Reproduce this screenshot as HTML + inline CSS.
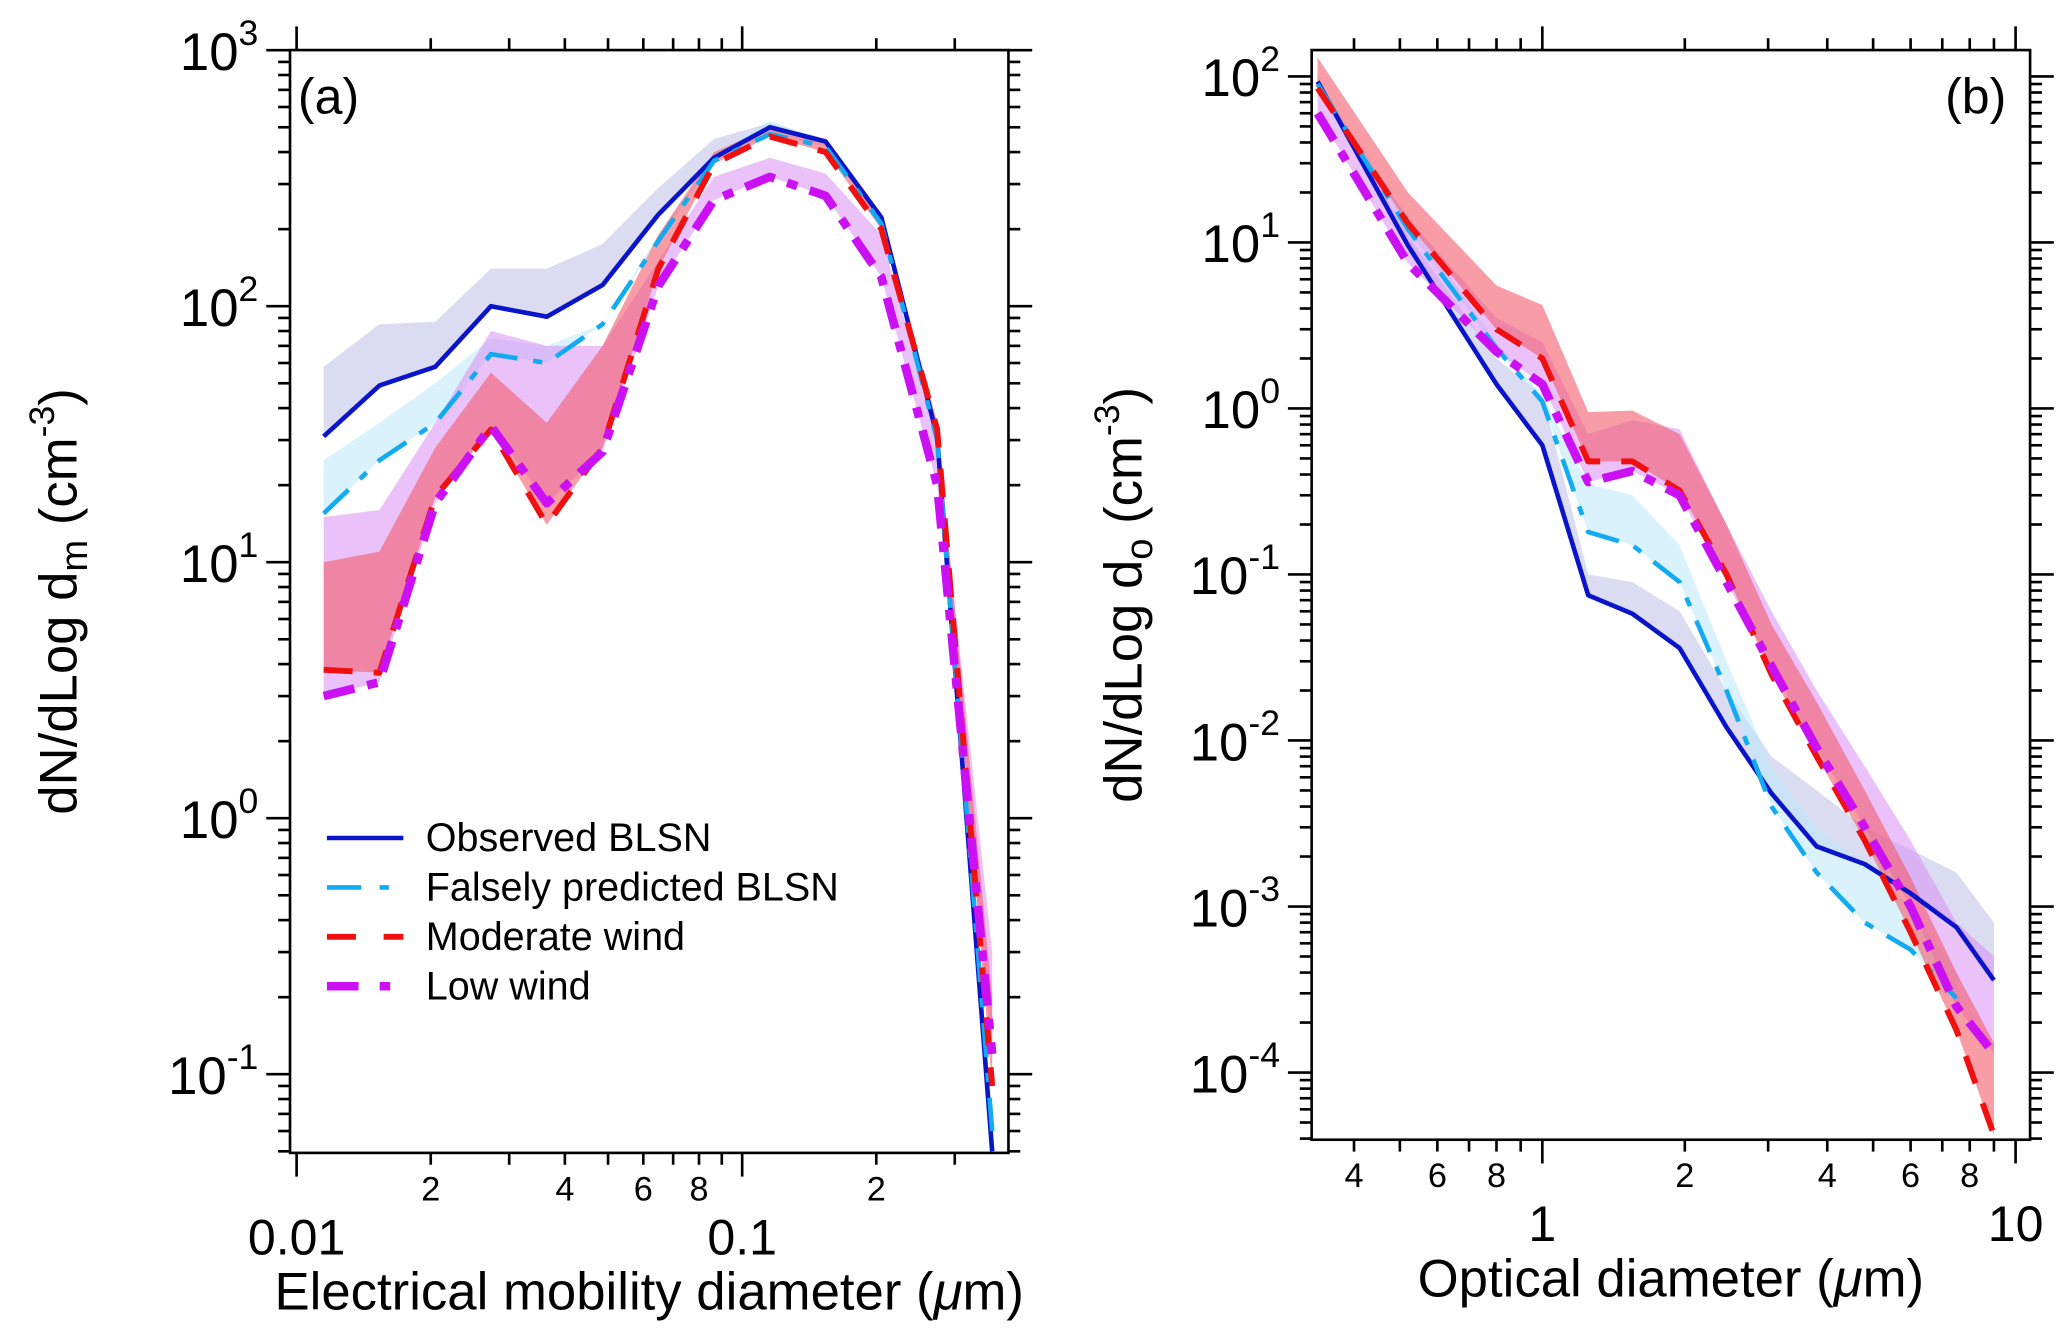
<!DOCTYPE html>
<html><head><meta charset="utf-8"><style>
html,body{margin:0;padding:0;background:#fff;}
svg{display:block;font-family:"Liberation Sans",sans-serif;}
</style></head><body>
<svg id="chart" width="2067" height="1340" viewBox="0 0 1568 1017" preserveAspectRatio="none" xmlns="http://www.w3.org/2000/svg"></svg>
<script>
// ---------- Panel (a) data ----------
const aX = [0.0115,0.01534,0.02047,0.0273,0.03643,0.0486,0.06483,0.08648,0.1154,0.1539,0.2053,0.2739,0.364];
const aObs = [31,49,58,100,91,121,228,380,500,440,222,31,0.05];
const aFalse = [15.5,25,35,65,60,85,180,370,470,420,210,30,0.06];
const aMod = [3.8,3.7,18,33,14,28,140,360,460,400,200,33,0.09];
const aLow = [3.0,3.4,17,34,17,27,120,260,320,270,130,20,0.12];
const aObsUp = [58,85,87,140,140,175,290,450,520,450,230,35,0.06];
const aFalseUp = [25,35,50,75,70,85,190,390,530,440,220,32,0.07];
const aModUp = [10,11,28,55,35,70,190,400,500,440,230,35,0.2];
const aLowUp = [15,16,35,80,70,70,150,320,380,330,190,30,0.3];
// ---------- Panel (b) data ----------
const bX = [0.335,0.52,0.8,1.0,1.25,1.55,1.95,2.45,3.05,3.8,4.8,6.0,7.5,9.0];
const bObs = [93,9.6,1.4,0.6,0.075,0.058,0.036,0.012,0.0048,0.0023,0.0018,0.0012,0.00075,0.00036];
const bFalse = [90,12,2.3,1.1,0.18,0.15,0.09,0.02,0.004,0.0016,0.0008,0.00055,0.00028,null];
const bMod = [85,13,3.0,2.0,0.48,0.48,0.32,0.1,0.025,0.008,0.0025,0.0007,0.00018,0.000042];
const bLow = [60,7.5,2.2,1.4,0.36,0.42,0.3,0.09,0.028,0.009,0.003,0.001,0.00025,0.00013];
const bObsUp = [100,11,2,1.2,0.1,0.09,0.06,0.02,0.008,0.005,0.003,0.0022,0.0016,0.0008];
const bFalseUp = [95,14,2.5,1.2,0.35,0.3,0.15,0.03,0.007,0.003,0.0018,0.001,0.0004,null];
const bModUp = [130,20,5.5,4.2,0.95,0.97,0.7,0.2,0.05,0.017,0.005,0.0015,0.0004,0.00015];
const bLowUp = [80,14,3.5,2.5,0.7,0.85,0.75,0.2,0.06,0.02,0.007,0.0025,0.0008,0.0005];

const NS="http://www.w3.org/2000/svg";
const svg=document.getElementById('chart');
function mk(tag,attrs,parent){const e=document.createElementNS(NS,tag);for(const k in attrs)e.setAttribute(k,attrs[k]);(parent||svg).appendChild(e);return e;}

function panel(cfg){
  const g=mk('g',{});
  
  
  const sx=v=>cfg.x0px+cfg.xdec*(Math.log10(v)-cfg.x0log);
  const sy=v=>cfg.y0px-cfg.ydec*(Math.log10(v)-cfg.y0log);
  const clip='clip'+cfg.id;
  const cp=mk('clipPath',{id:clip},g);
  mk('rect',{x:cfg.L,y:cfg.T,width:cfg.R-cfg.L,height:cfg.B-cfg.T},cp);
  const plot=mk('g',{'clip-path':'url(#'+clip+')'},g);
  function band(up,lo,fill,op,nm){
    let pts=[];
    for(let i=0;i<cfg.X.length;i++) if(up[i]!=null) pts.push([sx(cfg.X[i]),sy(up[i])]);
    for(let i=cfg.X.length-1;i>=0;i--) if(lo[i]!=null&&up[i]!=null) pts.push([sx(cfg.X[i]),sy(lo[i])]);
    const p=mk('polygon',{points:pts.map(p=>p.join(',')).join(' '),fill:fill,'fill-opacity':op},plot);
    
    
  }
  function line(ys,col,w,dash,nm){
    let pts=[];
    for(let i=0;i<cfg.X.length;i++) if(ys[i]!=null) pts.push([sx(cfg.X[i]),sy(ys[i])]);
    const p=mk('polyline',{points:pts.map(p=>p.join(',')).join(' '),fill:'none',stroke:col,'stroke-width':w,'stroke-dasharray':dash||'none','stroke-linejoin':'round'},plot);
    
    
  }
  band(cfg.obsUp,cfg.obs,'#b8b8e6',0.5,'observed-band');
  band(cfg.falseUp,cfg.fal,'#bce8f8',0.55,'falsely-predicted-band');
  band(cfg.lowUp,cfg.low,'#d890f4',0.55,'low-wind-band');
  band(cfg.modUp,cfg.mod,'#f45a6a',0.6,'moderate-wind-band');
  line(cfg.obs,'#0a14c8',3.5,null,'observed-blsn-line');
  line(cfg.fal,'#12aaf0',3.5,'26 12 7 12','falsely-predicted-line');
  line(cfg.mod,'#f01010',4.5,'22 16','moderate-wind-line');
  line(cfg.low,'#cc10f4',6.5,'24 10 8 10','low-wind-line');
  const fr=mk('rect',{x:cfg.L,y:cfg.T,width:cfg.R-cfg.L,height:cfg.B-cfg.T,fill:'none',stroke:'#000','stroke-width':2},g);
  
  
  for(let d=cfg.yMin;d<=cfg.yMax;d++){
    for(let m=1;m<10;m++){
      const v=m*Math.pow(10,d); const y=sy(v);
      if(y<cfg.T-0.5||y>cfg.B+0.5) continue;
      const len=m===1?18:9;
      mk('line',{x1:cfg.L,x2:cfg.L-len,y1:y,y2:y,stroke:'#000','stroke-width':2},g);
      mk('line',{x1:cfg.R,x2:cfg.R+len,y1:y,y2:y,stroke:'#000','stroke-width':2},g);
      if(m===1){
        const t=mk('text',{x:cfg.L-24,y:y+15,'text-anchor':'end','font-size':40},g);
        t.textContent='10';
        const s=mk('tspan',{dy:-19,'font-size':27},t); s.textContent=String(d);
        
        
      }
    }
  }
  for(let d=cfg.xMinD;d<=cfg.xMaxD;d++){
    for(let m=1;m<10;m++){
      const v=m*Math.pow(10,d); const x=sx(v);
      if(x<cfg.L-0.5||x>cfg.R+0.5) continue;
      const len=m===1?18:9;
      mk('line',{x1:x,x2:x,y1:cfg.B,y2:cfg.B+len,stroke:'#000','stroke-width':2},g);
      mk('line',{x1:x,x2:x,y1:cfg.T,y2:cfg.T-len,stroke:'#000','stroke-width':2},g);
      let lab=null,fs=26,yy=cfg.B+36;
      if(m===1){lab=cfg.majorLab(v);fs=38;yy=cfg.B+77;}
      else if(m%2===0&&!(cfg.skipMinor||[]).includes(v)) lab=String(m);
      if(lab){
        const t=mk('text',{x:x,y:yy,'text-anchor':'middle','font-size':fs},g);
        t.textContent=lab;
        
        
      }
    }
  }
  const xt=mk('text',{x:(cfg.L+cfg.R)/2,y:cfg.B+119,'text-anchor':'middle','font-size':40},g);
  xt.innerHTML=cfg.xTitle;
  
  
  const yt=mk('text',{transform:'translate('+cfg.yTitleX+','+((cfg.T+cfg.B)/2)+') rotate(-90)','text-anchor':'middle','font-size':40},g);
  yt.innerHTML='dN/dLog d<tspan dy="8" font-size="29">'+cfg.sub+'</tspan><tspan dy="-8"> (cm</tspan><tspan dy="-17" font-size="27">-3</tspan><tspan dy="17">)</tspan>';
  
  
  const pl=mk('text',{x:cfg.labX,y:cfg.T+48,'text-anchor':cfg.labAnchor,'font-size':38},g);
  pl.textContent=cfg.label;
  
  
}

panel({id:'a',name:'panel-a',L:220,R:765,T:38,B:875,x0px:225,xdec:338,x0log:-2,y0px:621,ydec:194.3,y0log:0,
  yMin:-2,yMax:3,xMinD:-3,xMaxD:0,X:aX,obs:aObs,fal:aFalse,mod:aMod,low:aLow,obsUp:aObsUp,falseUp:aFalseUp,modUp:aModUp,lowUp:aLowUp,
  majorLab:v=>v<0.05?'0.01':'0.1',skipMinor:[0.003,0.0004,0.0006,0.0008,0.4],
  xTitle:'Electrical mobility diameter (<tspan font-style="italic">μ</tspan>m)',yTitleX:58,sub:'m',label:'(a)',labX:226,labAnchor:'start'});
panel({id:'b',name:'panel-b',L:995,R:1540,T:38,B:865,x0px:1170,xdec:359,x0log:0,y0px:310,ydec:126,y0log:0,
  yMin:-5,yMax:2,xMinD:-1,xMaxD:1,X:bX,obs:bObs,fal:bFalse,mod:bMod,low:bLow,obsUp:bObsUp,falseUp:bFalseUp,modUp:bModUp,lowUp:bLowUp,
  majorLab:v=>v<5?'1':'10',skipMinor:[0.2],
  xTitle:'Optical diameter (<tspan font-style="italic">μ</tspan>m)',yTitleX:866,sub:'o',label:'(b)',labX:1522,labAnchor:'end'});

const leg=mk('g',{});


const legItems=[['Observed BLSN','#0a14c8',3.5,'none'],['Falsely predicted BLSN','#12aaf0',3.5,'26 14 7 14'],['Moderate wind','#f01010',4.5,'22 21'],['Low wind','#cc10f4',6.5,'24 16 8 20']];
legItems.forEach((it,i)=>{
  const y=636+i*37.5;
  const ln=mk('line',{x1:248,x2:306,y1:y,y2:y,stroke:it[1],'stroke-width':it[2],'stroke-dasharray':it[3]},leg);
  
  
  const t=mk('text',{x:323,y:y+10,'font-size':30},leg);
  t.textContent=it[0];
  
  
});
</script>
</body></html>
